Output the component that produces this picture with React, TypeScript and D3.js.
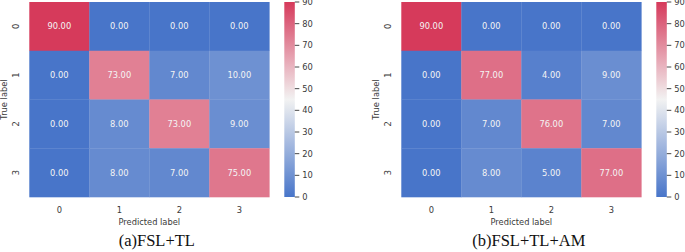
import React from "react";
import * as d3 from "d3";

const classes = ["0", "1", "2", "3"];
const matrixA = [
  [90, 0, 0, 0],
  [0, 73, 7, 10],
  [0, 8, 73, 9],
  [0, 8, 7, 75],
];
const matrixB = [
  [90, 0, 0, 0],
  [0, 77, 4, 9],
  [0, 7, 76, 7],
  [0, 8, 5, 77],
];
const colorbarTicks = [0, 10, 20, 30, 40, 50, 60, 70, 80, 90];
const captions = ["(a)FSL+TL", "(b)FSL+TL+AM"];

const W = 685;
const H = 252;

const color = d3
  .scaleLinear<string>()
  .domain([0, 45, 90])
  .range(["#4875c9", "#f2f2f2", "#d63a5b"])
  .interpolate(d3.interpolateRgb)
  .clamp(true);

const FONT = "DejaVu Sans, sans-serif";
const TEXT = "#3a3a3a";

function Panel({ data, caption, offset, id }: { data: number[][]; caption: string; offset: number; id: string }) {
  const left = 29.3 + offset;
  const top = 2;
  const width = 240;
  const height = 195;
  const x = d3.scaleBand().domain(classes).range([left, left + width]);
  const y = d3.scaleBand().domain(classes).range([top, top + height]);
  const cbX = 284.3 + offset;
  const cbW = 10.5;
  const cbY = d3.scaleLinear().domain([0, 90]).range([top + height, top]);
  const stops = d3.range(0, 91, 5);
  return (
    <g>
      <defs>
        <linearGradient id={id} x1="0" y1="1" x2="0" y2="0">
          {stops.map((s) => (
            <stop key={s} offset={s / 90} stopColor={color(s)} />
          ))}
        </linearGradient>
      </defs>
      {data.map((row, i) =>
        row.map((v, j) => (
          <rect
            key={`${i}-${j}`}
            x={x(classes[j])!}
            y={y(classes[i])!}
            width={x.bandwidth() + 0.3}
            height={y.bandwidth() + 0.3}
            fill={color(v)}
          />
        ))
      )}
      {data.map((row, i) =>
        row.map((v, j) => (
          <text
            key={`t${i}-${j}`}
            x={x(classes[j])! + x.bandwidth() / 2}
            y={y(classes[i])! + y.bandwidth() / 2}
            dy="0.35em"
            textAnchor="middle"
            fontFamily={FONT}
            fontSize={8.3}
            fill="#f4f4f4"
          >
            {v.toFixed(2)}
          </text>
        ))
      )}
      {classes.map((c) => (
        <text
          key={`x${c}`}
          x={x(c)! + x.bandwidth() / 2}
          y={213}
          textAnchor="middle"
          fontFamily={FONT}
          fontSize={8.3}
          fill={TEXT}
        >
          {c}
        </text>
      ))}
      {classes.map((c) => {
        const cy = y(c)! + y.bandwidth() / 2;
        const cx = 18.5 + offset;
        return (
          <text
            key={`y${c}`}
            transform={`translate(${cx},${cy}) rotate(-90)`}
            textAnchor="middle"
            fontFamily={FONT}
            fontSize={8.3}
            fill={TEXT}
          >
            {c}
          </text>
        );
      })}
      <text
        x={left + width / 2}
        y={224.5}
        textAnchor="middle"
        fontFamily={FONT}
        fontSize={8.3}
        fill={TEXT}
      >
        Predicted label
      </text>
      <text
        transform={`translate(${7 + offset},${top + height / 2}) rotate(-90)`}
        textAnchor="middle"
        fontFamily={FONT}
        fontSize={8.3}
        fill={TEXT}
      >
        True label
      </text>
      <rect x={cbX} y={top} width={cbW} height={height} fill={`url(#${id})`} />
      {colorbarTicks.map((t) => (
        <g key={`cb${t}`}>
          <line x1={cbX + cbW} x2={cbX + cbW + 4.5} y1={cbY(t)} y2={cbY(t)} stroke="#333" strokeWidth={0.9} />
          <text
            x={cbX + cbW + 7.5}
            y={cbY(t)}
            dy="0.35em"
            fontFamily={FONT}
            fontSize={8.3}
            fill={TEXT}
          >
            {t}
          </text>
        </g>
      ))}
      <text
        x={left + width / 2 + 7.5}
        y={246}
        textAnchor="middle"
        fontFamily="Liberation Serif, serif"
        fontSize={16.5}
        fill="#111"
      >
        {caption}
      </text>
    </g>
  );
}

export default function App() {
  return (
    <svg
      width={W}
      height={H}
      viewBox={`0 0 ${W} ${H}`}
      style={{ position: "absolute", left: 0, top: 0, background: "#fff", display: "block" }}
    >
      <rect width={W} height={H} fill="#fff" />
      <Panel data={matrixA} caption={captions[0]} offset={0} id="gradA" />
      <Panel data={matrixB} caption={captions[1]} offset={372} id="gradB" />
    </svg>
  );
}
